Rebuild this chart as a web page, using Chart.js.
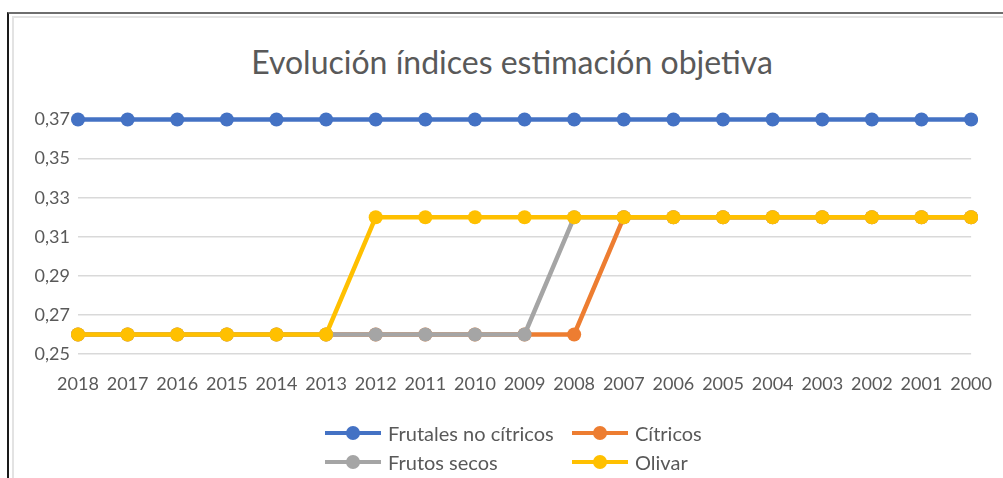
<!DOCTYPE html>
<html>
<head>
<meta charset="utf-8">
<script src="https://cdn.jsdelivr.net/npm/chart.js@4.4.0/dist/chart.umd.min.js"></script>
<style>
  body { margin: 0; background: #fff; font-family: Lato, sans-serif; }
  #wrap { position: relative; width: 1003px; height: 478px; overflow: hidden; }
  .frame-outer { position: absolute; left: 7px; top: 12px; right: -4px; bottom: -4px;
    border-top: 2px solid #6e6e6e; border-left: 2px solid #1a1a1a; }
  .frame-inner { position: absolute; left: 12px; top: 16px; right: -4px; bottom: -4px;
    border-top: 2px solid #e3e3e3; border-left: 2px solid #e3e3e3; }
  canvas { position: absolute; left: 0; top: 0; }
  #title { position: absolute; left: 0; width: 1024px; top: 43px; line-height: 38px;
    text-align: center; font-size: 32px; color: #595959; white-space: nowrap; }
  #legend { position: absolute; left: 325px; top: 418px; display: grid;
    grid-template-columns: 247px auto; }
  .item { display: flex; align-items: center; height: 29px; font-size: 20px; color: #595959; }
  .swatch { position: relative; width: 56px; height: 4px; margin-right: 7px; }
  .swatch span { position: absolute; left: 21px; top: -5px; width: 14px; height: 14px; border-radius: 50%; }
</style>
</head>
<body>
<div id="wrap">
  <div class="frame-outer"></div>
  <div class="frame-inner"></div>
  <div id="title">Evolución índices estimación objetiva</div>
  <canvas id="chart" width="1003" height="478"></canvas>
  <div id="legend"></div>
</div>
<script>
const years = ["2018", "2017", "2016", "2015", "2014", "2013", "2012", "2011", "2010", "2009",
  "2008", "2007", "2006", "2005", "2004", "2003", "2002", "2001", "2000"];

const frutalesNoCitricos = [0.37, 0.37, 0.37, 0.37, 0.37, 0.37, 0.37, 0.37, 0.37, 0.37,
  0.37, 0.37, 0.37, 0.37, 0.37, 0.37, 0.37, 0.37, 0.37];
const citricos = [0.26, 0.26, 0.26, 0.26, 0.26, 0.26, 0.26, 0.26, 0.26, 0.26,
  0.26, 0.32, 0.32, 0.32, 0.32, 0.32, 0.32, 0.32, 0.32];
const frutosSecos = [0.26, 0.26, 0.26, 0.26, 0.26, 0.26, 0.26, 0.26, 0.26, 0.26,
  0.32, 0.32, 0.32, 0.32, 0.32, 0.32, 0.32, 0.32, 0.32];
const olivar = [0.26, 0.26, 0.26, 0.26, 0.26, 0.26, 0.32, 0.32, 0.32, 0.32,
  0.32, 0.32, 0.32, 0.32, 0.32, 0.32, 0.32, 0.32, 0.32];

const textColor = "#595959";

function lineSet(label, data, color, order) {
  return {
    label: label,
    data: data,
    borderColor: color,
    backgroundColor: color,
    borderWidth: 4.5,
    pointRadius: 7,
    pointBorderWidth: 0,
    pointBackgroundColor: color,
    tension: 0,
    order: order
  };
}

const ctx = document.getElementById("chart").getContext("2d");
const chart = new Chart(ctx, {
  type: "line",
  data: {
    labels: years,
    datasets: [
      lineSet("Frutales no cítricos", frutalesNoCitricos, "#4472C4", 4),
      lineSet("Cítricos", citricos, "#ED7D31", 3),
      lineSet("Frutos secos", frutosSecos, "#A5A5A5", 2),
      lineSet("Olivar", olivar, "#FFC000", 1)
    ]
  },
  options: {
    responsive: false,
    animation: false,
    layout: { padding: { left: 18, right: 26, top: 100, bottom: 64 } },
    plugins: {
      legend: { display: false },
      tooltip: { enabled: false },
      title: { display: false }
    },
    scales: {
      x: {
        offset: false,
        grid: { display: false },
        border: { display: false },
        ticks: {
          autoSkip: false,
          maxRotation: 0,
          color: textColor,
          font: { family: "Lato", size: 18 },
          padding: 11
        },
        afterFit: function (scale) { scale.height = 60; }
      },
      y: {
        min: 0.25,
        max: 0.38,
        grid: { color: "#d9d9d9", lineWidth: 1.5, drawTicks: false },
        border: { display: false },
        ticks: {
          stepSize: 0.01,
          color: textColor,
          font: { family: "Lato", size: 18 },
          padding: 8,
          callback: function (value) {
            const h = Math.round(value * 100);
            return h % 2 === 1 ? (h / 100).toFixed(2).replace(".", ",") : "";
          }
        },
        afterFit: function (scale) { scale.width = 60; }
      }
    }
  }
});

// Excel-style legend, two columns
const legend = document.getElementById("legend");
chart.data.datasets.forEach(function (ds) {
  const item = document.createElement("div");
  item.className = "item";
  item.innerHTML = '<div class="swatch" style="background:' + ds.borderColor + '">' +
    '<span style="background:' + ds.borderColor + '"></span></div>' + ds.label;
  legend.appendChild(item);
});
</script>
</body>
</html>
